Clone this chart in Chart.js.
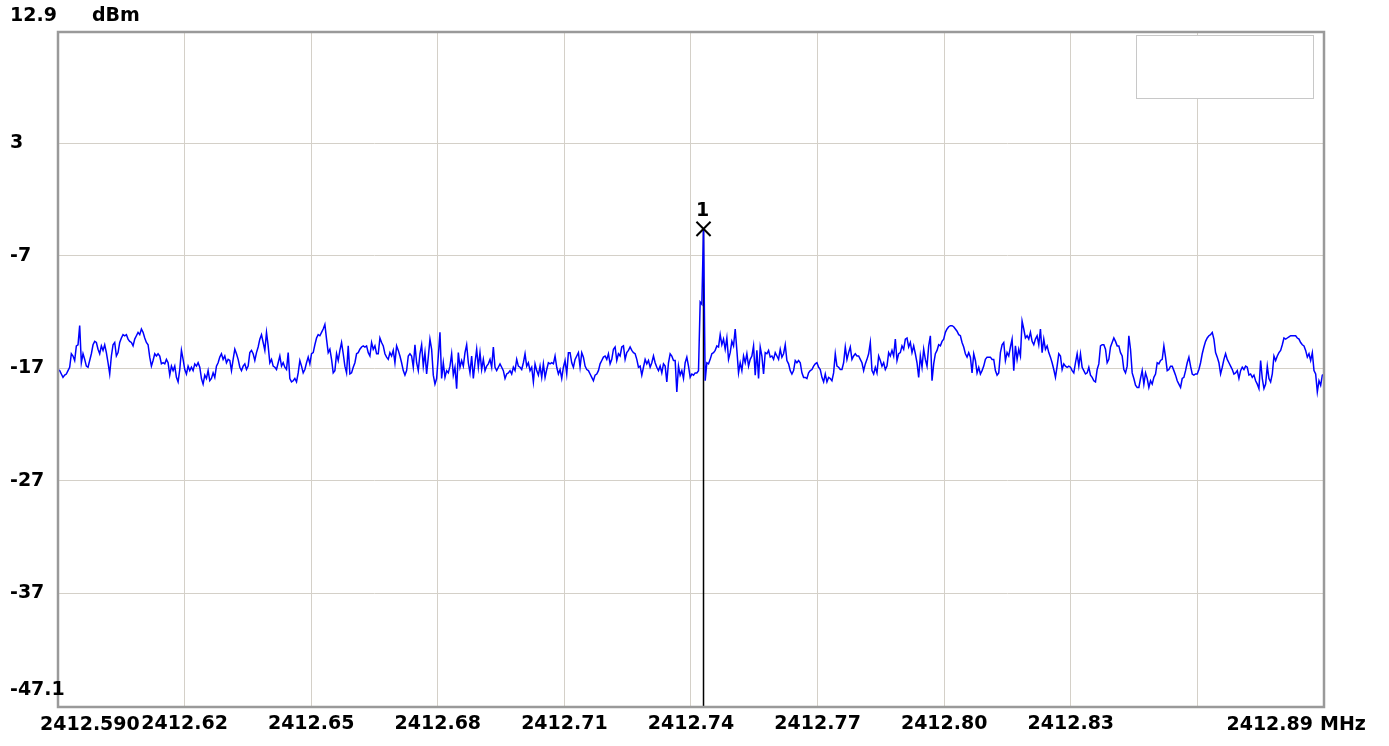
<!DOCTYPE html>
<html><head><meta charset="utf-8">
<script src="https://cdn.jsdelivr.net/npm/chart.js@4.4.1/dist/chart.umd.min.js"></script>
<style>html,body{margin:0;padding:0;background:#fff;overflow:hidden;}#wrap{width:1389px;height:746px;}</style>
</head><body><div id="wrap"><canvas id="c" width="1389" height="746"></canvas></div>
<script>
// ---- data ----
const START_MHZ = 2412.59;
const STOP_MHZ = 2412.89;
const Y_MIN = -47.1;
const Y_MAX = 12.9;
const UNIT_X = 'MHz';
const UNIT_Y = 'dBm';
const MARKER_LABEL = '1';
const X_TICKS = [2412.59, 2412.62, 2412.65, 2412.68, 2412.71, 2412.74, 2412.77, 2412.80, 2412.83, 2412.86, 2412.89];
const X_TICK_LABELS = ['2412.590', '2412.62', '2412.65', '2412.68', '2412.71', '2412.74', '2412.77', '2412.80', '2412.83', '', '2412.89'];
const Y_TICKS = [-47.1, -37, -27, -17, -7, 3, 12.9];
const Y_TICK_LABELS = ['-47.1', '-37', '-27', '-17', '-7', '3', '12.9'];
// trace level in dBm, evenly spaced sweep points from START_MHZ to STOP_MHZ
const TRACE = [
-17.1,-17.2,-17.5,-17.8,-17.6,-17.5,-17.2,-16.9,-15.7,-15.9,
-16.3,-15.0,-14.9,-13.2,-16.5,-15.7,-16.2,-16.8,-16.9,-16.3,
-15.7,-14.9,-14.6,-14.7,-15.3,-15.7,-15.0,-15.4,-14.9,-15.6,
-16.5,-17.5,-15.9,-14.9,-14.7,-15.9,-15.6,-14.7,-14.3,-14.0,
-14.1,-14.0,-14.4,-14.6,-14.7,-15.0,-14.4,-14.1,-13.8,-14.0,
-13.5,-13.8,-14.3,-14.7,-14.9,-16.0,-16.8,-16.3,-15.7,-15.9,
-15.7,-15.9,-16.6,-16.5,-16.6,-16.2,-16.5,-17.6,-16.8,-17.2,
-16.8,-17.8,-18.2,-17.1,-15.4,-16.2,-17.1,-17.5,-16.8,-17.2,
-16.9,-17.2,-16.6,-16.8,-16.5,-16.9,-17.9,-18.4,-17.6,-17.9,
-17.2,
-18.1,-17.9,-17.4,-17.8,-16.8,-16.5,-16.0,-15.7,-16.2,-15.9,
-16.5,-16.2,-16.3,-17.2,-16.2,-15.3,-15.7,-16.2,-16.9,-17.2,
-16.8,-16.6,-17.1,-16.8,-15.6,-15.4,-15.7,-16.3,-15.6,-15.1,
-14.4,-14.0,-14.7,-15.4,-13.8,-15.0,-16.5,-16.2,-16.8,-16.9,
-17.1,-16.5,-15.9,-16.8,-16.5,-16.9,-17.1,-15.6,-17.9,-18.2,
-18.1,-17.9,-18.2,-17.4,-16.3,-16.8,-17.4,-17.1,-16.5,-16.0,
-16.6,-15.7,-15.6,-14.9,-14.3,-14.0,-14.1,-13.8,-13.5,-13.1,
-14.4,-15.6,-15.3,-16.2,-17.4,-17.2,-15.7,-16.3,-15.4,-14.7,
-15.7,-16.8,-17.4,-15.0,-17.5,-17.4,-16.9,-16.5,-15.7,-15.6,
-15.3,-15.1,-15.0,
-15.1,-15.0,-15.6,-15.9,-14.7,-15.3,-15.0,-15.7,-15.7,-14.3,
-14.7,-15.0,-15.7,-16.0,-16.2,-15.6,-15.9,-15.4,-16.5,-15.0,
-15.4,-15.9,-16.5,-17.2,-17.6,-17.2,-15.9,-15.7,-15.9,-16.9,
-14.9,-16.5,-17.2,-15.7,-14.9,-16.8,-15.6,-17.5,-16.0,-14.4,
-15.3,-17.6,-18.4,-17.9,-15.9,-13.8,-17.9,-16.5,-17.8,-17.2,
-17.4,-16.8,-15.7,-17.6,-16.9,-18.8,-15.6,-16.9,-16.3,-16.8,
-15.6,-14.9,-16.5,-17.4,-15.9,-17.9,-16.5,-15.3,-16.9,-15.6,
-17.1,-16.2,-17.2,-16.8,-16.6,-16.2,-16.9,-15.1,-16.9,-17.2,
-16.9,-16.6,-16.9,-17.2,-17.9,-17.5,-17.4,-17.2,-17.5,-16.9,
-17.2,-16.2,-16.8,
-16.9,-17.1,-16.5,-15.7,-16.8,-16.5,-17.2,-16.9,-18.2,-16.6,
-17.2,-17.6,-16.8,-17.8,-16.6,-17.8,-17.1,-16.5,-16.6,-16.5,
-16.6,-15.9,-16.9,-17.5,-17.1,-17.9,-16.9,-16.3,-17.5,-15.6,
-15.6,-16.5,-16.9,-16.2,-15.9,-15.6,-16.9,-15.6,-16.0,-16.8,
-17.1,-17.2,-17.5,-17.8,-18.1,-17.6,-17.5,-17.2,-16.6,-16.3,
-16.0,-15.9,-16.2,-15.7,-16.6,-16.2,-15.3,-15.1,-16.3,-15.7,
-15.9,-15.1,-15.0,-16.2,-15.6,-15.4,-15.1,-15.4,-15.6,-15.7,
-16.2,-16.9,-16.8,-17.6,-16.9,-16.2,-16.6,-16.3,-16.9,-16.5,
-15.9,-16.5,-16.9,-17.2,-16.8,-17.4,-16.6,-16.8,-18.2,-16.5,
-15.7,-15.9,-16.3,
-16.3,-19.1,-16.8,-17.6,-17.2,-17.9,-16.5,-16.0,-16.8,-17.8,
-17.5,-17.6,-17.4,-17.4,-17.2,-11.1,-11.3,-4.6,-18.1,-16.5,
-16.6,-16.2,-15.7,-15.6,-15.4,-15.0,-15.1,-14.0,-14.9,-14.4,
-15.3,-14.3,-16.2,-15.6,-14.6,-15.0,-13.5,-15.4,-17.4,-16.5,
-17.2,-15.9,-16.5,-15.7,-16.8,-16.2,-15.9,-15.0,-17.6,-15.4,
-17.9,-15.1,-15.9,-17.5,-15.6,-15.7,-15.4,-16.0,-15.9,-16.2,
-15.6,-15.9,-16.2,-15.3,-16.0,-15.7,-14.9,-16.3,-16.6,-17.2,
-17.5,-17.2,-16.3,-16.5,-16.3,-16.5,-17.4,-17.8,-17.8,-17.9,
-17.4,-17.2,-17.1,-16.8,-16.6,-16.5,-16.9,-17.1,-17.8,-18.2,
-17.5,-18.2,-17.8,
-17.9,-18.1,-17.4,-15.7,-16.8,-16.9,-17.1,-17.1,-16.5,-15.1,
-16.2,-15.6,-15.1,-16.2,-15.9,-15.7,-15.9,-15.9,-16.2,-16.5,
-17.2,-16.6,-16.2,-15.7,-14.7,-17.2,-17.5,-16.9,-17.4,-15.9,
-16.3,-16.8,-16.5,-17.1,-16.8,-15.6,-15.9,-15.4,-15.9,-14.4,
-16.3,-15.7,-15.6,-15.0,-15.3,-14.4,-14.3,-15.1,-14.7,-15.6,
-15.0,-15.7,-16.5,-17.8,-15.9,-16.9,-15.3,-16.2,-16.8,-15.0,
-14.1,-18.1,-16.6,-15.7,-15.4,-14.9,-15.0,-14.6,-14.4,-13.8,
-13.5,-13.3,-13.2,-13.2,-13.3,-13.5,-13.7,-14.0,-14.1,-14.7,
-15.1,-15.7,-16.0,-15.6,-16.0,-17.4,-15.7,-16.3,-17.4,-16.9,
-17.5,-17.2,-16.8,
-16.2,-16.0,-16.0,-16.0,-16.2,-16.2,-17.2,-17.6,-17.4,-15.6,
-14.9,-14.7,-16.3,-15.6,-15.9,-15.1,-14.4,-17.2,-15.0,-16.2,
-15.3,-15.9,-12.8,-13.5,-14.3,-14.1,-14.4,-13.8,-14.6,-14.9,
-14.4,-14.1,-14.9,-13.5,-15.6,-14.4,-15.3,-15.0,-15.6,-16.0,
-16.5,-17.1,-17.8,-16.8,-15.7,-15.9,-17.1,-16.6,-16.8,-16.9,
-16.8,-16.9,-17.2,-17.4,-16.5,-15.7,-16.8,-15.7,-16.9,-17.2,
-17.5,-17.4,-16.9,-17.6,-17.8,-18.1,-18.2,-17.1,-16.6,-15.0,
-14.9,-14.9,-15.3,-16.5,-16.2,-15.1,-14.7,-14.3,-14.6,-15.0,
-15.0,-15.6,-15.9,-17.1,-17.4,-16.8,-14.1,-15.3,-17.4,-17.9,
-18.5,-18.7,-18.7,
-17.9,-17.2,-18.4,-17.4,-17.9,-18.7,-18.1,-18.4,-17.8,-17.5,
-16.5,-16.6,-16.3,-16.2,-15.0,-16.0,-17.2,-17.1,-16.8,-16.8,
-17.2,-17.6,-18.1,-18.4,-18.7,-17.9,-17.8,-17.2,-16.5,-16.0,
-16.8,-17.5,-17.6,-17.5,-17.5,-17.1,-16.5,-15.7,-15.1,-14.6,
-14.3,-14.1,-14.0,-13.8,-14.4,-15.6,-16.0,-16.5,-17.5,-16.9,
-16.2,-15.7,-16.2,-16.5,-16.8,-17.1,-17.5,-17.4,-17.2,-17.9,
-17.2,-16.9,-17.1,-16.8,-16.9,-17.6,-17.5,-17.8,-17.6,-18.1,
-18.4,-18.8,-16.3,-17.9,-18.8,-18.4,-16.8,-17.9,-18.2,-17.5,
-15.9,-16.3,-15.9,-15.6,-15.4,-14.9,-14.3,-14.4,-14.3,-14.2,
-14.1,-14.1,-14.1,-14.1,-14.3,-14.4,-14.7,-14.9,-15.0,-15.4,
-16.0,-15.7,-16.3,-15.6,-17.2,-17.5,-19.1,-18.1,-18.5,-17.6,
-17.5
];

// ---- build ----
const step = (STOP_MHZ - START_MHZ) / (TRACE.length - 1);
const tracePts = TRACE.map((v, i) => ({ x: START_MHZ + i * step, y: v }));
let pk = 0;
TRACE.forEach((v, i) => { if (v > TRACE[pk]) pk = i; });
const peak = { x: START_MHZ + pk * step, y: TRACE[pk] };

const FONT = { family: '"DejaVu Sans", sans-serif', size: 19, weight: 'bold' };
const FONT_CSS = 'bold 19px "DejaVu Sans", sans-serif';
const GRID = '#d4d0c8';

const framePlugin = {
  id: 'frame',
  beforeDatasetsDraw(chart) {
    const { ctx, chartArea: a } = chart;
    ctx.save();
    const w = 177, h = 63, bx = a.right - 11 - w, by = a.top + 3;
    ctx.fillStyle = '#ffffff';
    ctx.fillRect(bx, by, w, h);
    ctx.strokeStyle = '#c8c8c8';
    ctx.lineWidth = 1;
    ctx.strokeRect(bx + 0.5, by + 0.5, w, h);
    ctx.restore();
  },
  afterDraw(chart) {
    const { ctx, chartArea: a, scales } = chart;
    ctx.save();
    ctx.strokeStyle = '#9a9a9a';
    ctx.lineWidth = 2.5;
    ctx.strokeRect(a.left, a.top, a.right - a.left, a.bottom - a.top);
    ctx.font = FONT_CSS;
    ctx.fillStyle = '#000';
    ctx.textBaseline = 'middle';
    ctx.textAlign = 'left';
    ctx.fillText(Y_TICK_LABELS[Y_TICK_LABELS.length - 1], 10, a.top - 16);
    ctx.fillText(UNIT_Y, 92, a.top - 16);
    ctx.fillText(Y_TICK_LABELS[0], 10, a.bottom - 17);
    const ly = a.bottom + 6 + 12;
    ctx.fillText(X_TICK_LABELS[0], a.left - 18, ly);
    ctx.textAlign = 'right';
    ctx.fillText(X_TICK_LABELS[X_TICK_LABELS.length - 1], a.right - 11, ly);
    ctx.textAlign = 'left';
    ctx.fillText(UNIT_X, a.right - 4, ly);
    const px = scales.x.getPixelForValue(peak.x);
    const py = scales.y.getPixelForValue(peak.y);
    ctx.textAlign = 'center';
    ctx.fillText(MARKER_LABEL, px - 1, py - 18);
    ctx.restore();
  }
};

new Chart(document.getElementById('c'), {
  type: 'line',
  data: {
    datasets: [
      { label: 'Marker ' + MARKER_LABEL, data: [peak], showLine: false, pointStyle: 'crossRot',
        pointRadius: 10, pointBorderWidth: 2, borderColor: '#000', backgroundColor: '#000' },
      { label: 'Trace', data: tracePts, borderColor: '#0000ff', borderWidth: 1.5,
        pointRadius: 0, fill: false, tension: 0 },
      { label: 'Marker line', data: [peak, { x: peak.x, y: Y_MIN }], borderColor: '#000',
        borderWidth: 1.5, pointRadius: 0, fill: false }
    ]
  },
  options: {
    responsive: false,
    animation: false,
    devicePixelRatio: 1,
    layout: { padding: { left: 10, top: 32, right: 65, bottom: 0 } },
    plugins: { legend: { display: false }, tooltip: { enabled: false }, title: { display: false } },
    scales: {
      x: {
        type: 'linear', min: START_MHZ, max: STOP_MHZ,
        afterBuildTicks: s => { s.ticks = X_TICKS.map(v => ({ value: v })); },
        afterFit: s => { s.height = 39; },
        grid: { color: GRID, lineWidth: 1, drawTicks: false },
        border: { display: false },
        ticks: {
          autoSkip: false, maxRotation: 0, minRotation: 0, padding: 6, color: '#000', font: FONT,
          callback: (v, i) => (i === 0 || i === X_TICK_LABELS.length - 1) ? '' : X_TICK_LABELS[i]
        }
      },
      y: {
        type: 'linear', min: Y_MIN, max: Y_MAX,
        afterBuildTicks: s => { s.ticks = Y_TICKS.map(v => ({ value: v })); },
        afterFit: s => { s.width = 48; },
        grid: { color: GRID, lineWidth: 1, drawTicks: false },
        border: { display: false },
        ticks: {
          crossAlign: 'far', padding: 0, color: '#000', font: FONT,
          callback: (v, i) => (i === 0 || i === Y_TICK_LABELS.length - 1) ? '' : Y_TICK_LABELS[i]
        }
      }
    }
  },
  plugins: [framePlugin]
});
</script></body></html>
